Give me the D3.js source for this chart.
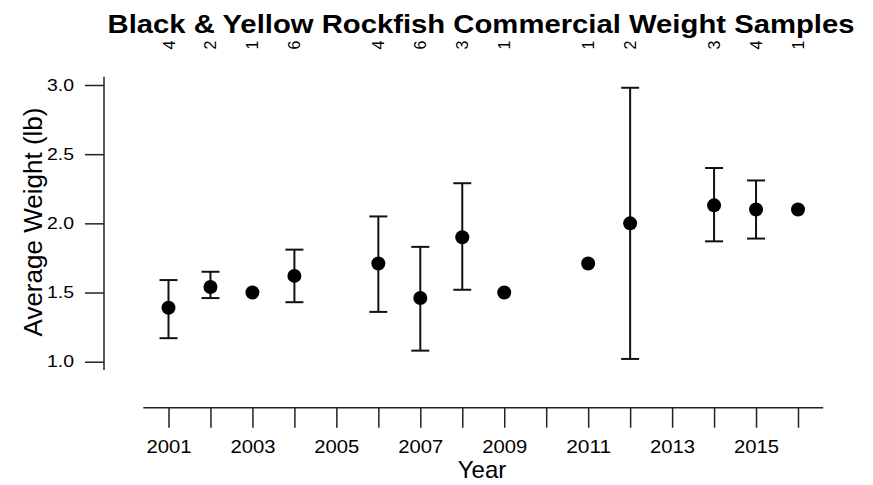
<!DOCTYPE html>
<html>
<head>
<meta charset="utf-8">
<script src="https://cdn.jsdelivr.net/npm/d3@7"></script>
<style>
  body { margin: 0; background: #fff; }
  svg { display: block; font-family: 'Liberation Sans', Arial, sans-serif; }
  .tick text { fill: #000; }
</style>
</head>
<body>
<svg width="873" height="485"></svg>
<script>
const years = [2001, 2002, 2003, 2004, 2006, 2007, 2008, 2009, 2011, 2012, 2014, 2015, 2016];
const meanWeight = [1.39, 1.54, 1.50, 1.62, 1.71, 1.46, 1.90, 1.50, 1.71, 2.00, 2.13, 2.10, 2.10];
const lowerWeight = [1.17, 1.46, null, 1.43, 1.36, 1.08, 1.52, null, null, 1.02, 1.87, 1.89, null];
const upperWeight = [1.59, 1.65, null, 1.81, 2.05, 1.83, 2.29, null, null, 2.98, 2.40, 2.31, null];
const sampleCounts = [4, 2, 1, 6, 4, 6, 3, 1, 1, 2, 3, 4, 1];
const yTicks = [1.0, 1.5, 2.0, 2.5, 3.0];
const xTicks = d3.range(2001, 2017);

const svg = d3.select('svg');

const data = years.map((y, i) => ({
	year: y,
	mean: meanWeight[i],
	lo: lowerWeight[i],
	hi: upperWeight[i],
	n: sampleCounts[i]
}));

const xScale = d3.scaleLinear()
	.domain([2001, 2016])
	.range([168.5, 798]);

const yScale = d3.scaleLinear()
	.domain([1, 3])
	.range([361.7, 85]);

// y axis
const yAxisG = svg.append('g')
	.attr('transform', 'translate(104,0)')
	.call(d3.axisLeft(yScale)
		.tickValues(yTicks)
		.tickFormat(d3.format('.1f'))
		.tickSize(19)
		.tickPadding(11));
yAxisG.select('.domain').remove();
yAxisG.selectAll('.tick line').attr('stroke', '#222').attr('stroke-width', 1.5);
yAxisG.selectAll('.tick text')
	.attr('font-size', 16)
	.attr('textLength', 27)
	.attr('lengthAdjust', 'spacingAndGlyphs');
yAxisG.append('line')
	.attr('y1', yScale(3.06))
	.attr('y2', yScale(0.94))
	.attr('stroke', '#222')
	.attr('stroke-width', 1.5);

// x axis
const xAxisG = svg.append('g')
	.attr('transform', 'translate(0,407.7)')
	.call(d3.axisBottom(xScale)
		.tickValues(xTicks)
		.tickFormat(d => d % 2 === 1 ? d : '')
		.tickSize(20)
		.tickPadding(13));
xAxisG.select('.domain').remove();
xAxisG.selectAll('.tick line').attr('stroke', '#222').attr('stroke-width', 1.5);
xAxisG.selectAll('.tick text')
	.filter(d => d % 2 === 1)
	.attr('font-size', 18)
	.attr('textLength', 45)
	.attr('lengthAdjust', 'spacingAndGlyphs');
xAxisG.append('line')
	.attr('x1', xScale(2000.4))
	.attr('x2', xScale(2016.6))
	.attr('stroke', '#222')
	.attr('stroke-width', 1.5);

// axis labels
svg.append('text')
	.attr('x', 482)
	.attr('y', 478)
	.attr('text-anchor', 'middle')
	.attr('font-size', 24)
	.text('Year');

svg.append('text')
	.attr('transform', 'translate(42,222) rotate(-90)')
	.attr('text-anchor', 'middle')
	.attr('font-size', 25)
	.attr('textLength', 229)
	.attr('lengthAdjust', 'spacingAndGlyphs')
	.text('Average Weight (lb)');

// title
svg.append('text')
	.attr('x', 481)
	.attr('y', 33)
	.attr('text-anchor', 'middle')
	.attr('font-size', 26)
	.attr('font-weight', 'bold')
	.attr('textLength', 747)
	.attr('lengthAdjust', 'spacingAndGlyphs')
	.text('Black & Yellow Rockfish Commercial Weight Samples');

// sample counts
svg.selectAll('.count')
	.data(data)
	.enter().append('text')
	.attr('class', 'count')
	.attr('transform', d => `translate(${xScale(d.year) + 6},45) rotate(-90)`)
	.attr('text-anchor', 'middle')
	.attr('font-size', 16)
	.text(d => d.n);

// error bars
const bars = svg.append('g')
	.selectAll('g')
	.data(data.filter(d => d.lo !== null))
	.enter().append('g')
	.attr('stroke', '#111')
	.attr('stroke-width', 2);

bars.append('line')
	.attr('x1', d => xScale(d.year))
	.attr('x2', d => xScale(d.year))
	.attr('y1', d => yScale(d.lo))
	.attr('y2', d => yScale(d.hi));

bars.append('line')
	.attr('x1', d => xScale(d.year) - 9)
	.attr('x2', d => xScale(d.year) + 9)
	.attr('y1', d => yScale(d.hi))
	.attr('y2', d => yScale(d.hi));

bars.append('line')
	.attr('x1', d => xScale(d.year) - 9)
	.attr('x2', d => xScale(d.year) + 9)
	.attr('y1', d => yScale(d.lo))
	.attr('y2', d => yScale(d.lo));

// points
svg.append('g')
	.selectAll('circle')
	.data(data)
	.enter().append('circle')
	.attr('cx', d => xScale(d.year))
	.attr('cy', d => yScale(d.mean))
	.attr('r', 7)
	.attr('fill', '#000');
</script>
</body>
</html>
